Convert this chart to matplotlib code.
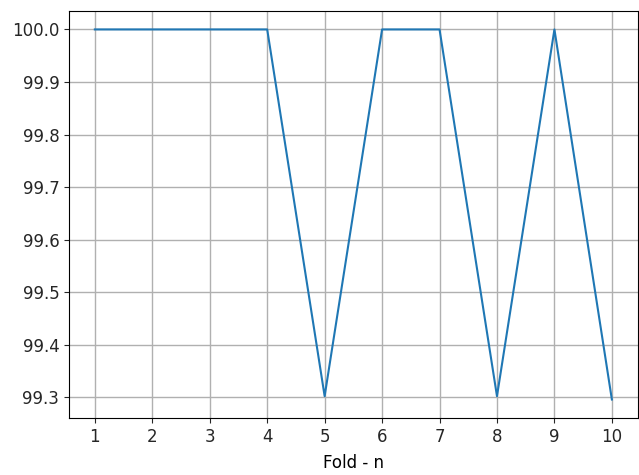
import numpy as np
import matplotlib.pyplot as plt

folds = np.arange(1, 11)
accuracy = [100.0, 100.0, 100.0, 100.0, 99.302, 100.0, 100.0, 99.302, 100.0, 99.2957]

plt.rcParams['font.size'] = 12

fig = plt.figure(figsize=(6.39, 4.75), dpi=100)
ax = fig.add_axes([0.108, 0.12, 0.89, 0.857])
ax.plot(folds, accuracy)
ax.set_xticks(folds)
ax.set_xlabel("Fold - n", labelpad=6)
ax.tick_params(colors='#262626', labelcolor='#262626')
ax.grid(True, linewidth=1)
fig.savefig("out.png", dpi=100)
